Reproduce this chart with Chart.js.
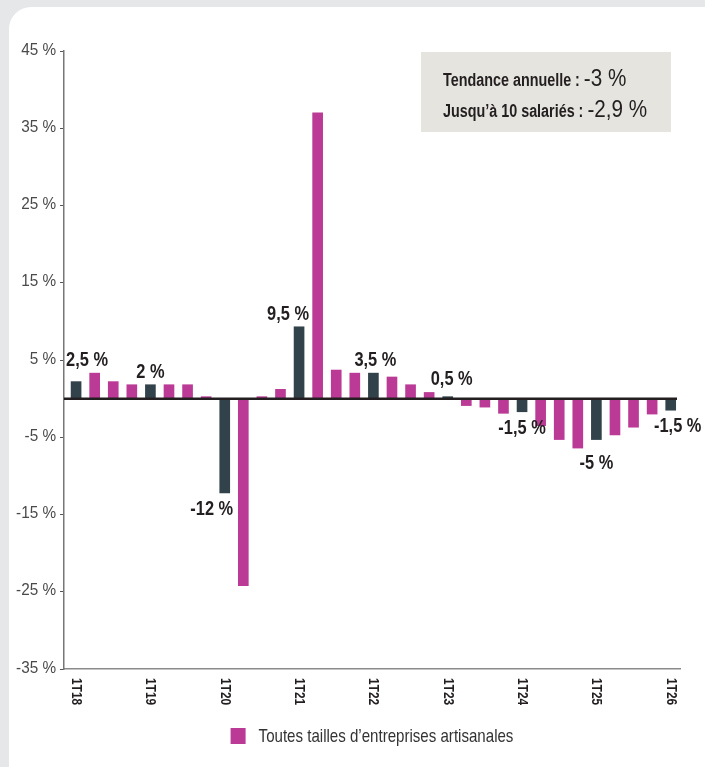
<!DOCTYPE html>
<html>
  <head>
    <title>Tendance artisanat</title>
    <script src="https://cdn.jsdelivr.net/npm/chart.js"></script>
    <style>
      body { margin: 0; background: #e6e7e9; width: 705px; height: 767px; overflow: hidden; position: relative; }
      #panel { position: absolute; left: 9px; top: 7px; width: 720px; height: 790px; background: #fff; border-radius: 22px; }
      #wrap { position: absolute; left: 0; top: 0; width: 705px; height: 767px; }
    </style>
  </head>
  <body>
    <div id="panel"></div>
    <div id="wrap"><canvas id="chart" width="705" height="767"></canvas></div>

    <script>
      const quarters = ['1T18','2T18','3T18','4T18','1T19','2T19','3T19','4T19',
        '1T20','2T20','3T20','4T20','1T21','2T21','3T21','4T21',
        '1T22','2T22','3T22','4T22','1T23','2T23','3T23','4T23',
        '1T24','2T24','3T24','4T24','1T25','2T25','3T25','4T25','1T26'];
      const values = [2.2, 3.3, 2.2, 1.8, 1.8, 1.8, 1.8, 0.25,
        -12.2, -24.2, 0.25, 1.2, 9.3, 37.0, 3.7, 3.3,
        3.3, 2.8, 1.8, 0.8, 0.25, -0.9, -1.1, -1.9,
        -1.7, -3.5, -5.3, -6.4, -5.3, -4.7, -3.7, -2.0, -1.5];
      const annualLabels = ['2,5 %','2 %','-12 %','9,5 %','3,5 %','0,5 %','-1,5 %','-5 %','-1,5 %'];
      const yTicks = [-35, -25, -15, -5, 5, 15, 25, 35, 45];
      const legendText = 'Toutes tailles d\u2019entreprises artisanales';
      const trendNames = ['Tendance annuelle : ', 'Jusqu\u2019\u00e0 10 salari\u00e9s : '];
      const trendValues = ['-3 %', '-2,9 %'];

      // small nudges so labels sit like in the print version [dx, dy]
      const labelNudge = [[11, -9], [0, 0], [-13, 0], [-11, 0], [2, 0], [4, -5], [0, 0], [0, 7], [7, 0]];

      const MAGENTA = '#bb3a96';
      const DARK = '#32424a';
      const INK = '#231f20';
      const SANS = "'Liberation Sans', Arial, sans-serif";
      const SQUEEZE = 0.82; // no narrow face installed, so squeeze Liberation Sans

      const isQ1 = q => q.startsWith('1T');

      // draws text squeezed horizontally, returns its drawn width
      function narrow(ctx, text, x, y, font, align, sx) {
        sx = sx || SQUEEZE;
        ctx.save();
        ctx.font = font;
        const w = ctx.measureText(text).width * sx;
        let left = x;
        if (align === 'center') left = x - w / 2;
        if (align === 'right') left = x - w;
        ctx.translate(left, y);
        ctx.scale(sx, 1);
        ctx.textAlign = 'left';
        ctx.fillText(text, 0, 0);
        ctx.restore();
        return w;
      }

      const decor = {
        id: 'decor',
        beforeDraw(chart) {
          const ctx = chart.ctx;
          ctx.save();
          ctx.fillStyle = '#e5e4df';
          ctx.fillRect(421, 52, 250, 80);
          ctx.fillStyle = INK;
          ctx.textBaseline = 'alphabetic';
          const base = [86, 117];
          trendNames.forEach((t, i) => {
            const w = narrow(ctx, t, 443, base[i], 'bold 17.5px ' + SANS, 'left');
            narrow(ctx, trendValues[i], 443 + w, base[i], '23.5px ' + SANS, 'left', 0.88);
          });
          ctx.restore();
        },
        afterDatasetsDraw(chart) {
          const {ctx, chartArea, scales: {x, y}} = chart;
          const y0 = y.getPixelForValue(0);
          ctx.save();
          ctx.strokeStyle = INK;
          ctx.lineWidth = 2.5;
          ctx.beginPath();
          ctx.moveTo(chartArea.left, y0);
          ctx.lineTo(chartArea.right - 3, y0);
          ctx.stroke();

          // y tick labels
          ctx.fillStyle = '#4a4a4a';
          ctx.textBaseline = 'middle';
          yTicks.forEach(v => {
            narrow(ctx, v + ' %', chartArea.left - 8, y.getPixelForValue(v) - 1, '17px ' + SANS, 'right', 0.9);
          });

          // value labels on the first quarters
          const meta = chart.getDatasetMeta(0);
          ctx.fillStyle = INK;
          ctx.textBaseline = 'alphabetic';
          let k = 0;
          quarters.forEach((q, i) => {
            if (!isQ1(q)) return;
            const bar = meta.data[i];
            const n = labelNudge[k] || [0, 0];
            const ty = values[i] >= 0 ? bar.y - 7 : bar.y + 22;
            narrow(ctx, annualLabels[k], bar.x + n[0], ty + n[1], 'bold 20px ' + SANS, 'center');
            k++;
          });

          // x labels, rotated clockwise
          ctx.textBaseline = 'middle';
          quarters.forEach((q, i) => {
            if (!isQ1(q)) return;
            const px = x.getPixelForValue(i);
            ctx.save();
            ctx.translate(px, chartArea.bottom + 9);
            ctx.rotate(Math.PI / 2);
            narrow(ctx, q, 0, 0, 'bold 14.5px ' + SANS, 'left');
            ctx.restore();
          });

          // legend
          ctx.font = '18.4px ' + SANS;
          const tw = ctx.measureText(legendText).width * SQUEEZE;
          const total = 15 + 13 + tw;
          const lx = (chartArea.left + chartArea.right) / 2 - total / 2;
          ctx.fillStyle = MAGENTA;
          ctx.fillRect(lx, 728, 15, 16);
          ctx.fillStyle = '#333';
          ctx.textBaseline = 'alphabetic';
          narrow(ctx, legendText, lx + 28, 742, '18.4px ' + SANS, 'left');
          ctx.restore();
        }
      };

      const chart = new Chart(document.getElementById('chart'), {
        type: 'bar',
        data: {
          datasets: [{
            label: legendText,
            data: values.map((v, i) => ({x: i, y: v})),
            backgroundColor: quarters.map(q => isQ1(q) ? DARK : MAGENTA),
            barThickness: 10
          }]
        },
        options: {
          responsive: false,
          animation: false,
          devicePixelRatio: 1,
          layout: { padding: { left: 10, right: 25, top: 51, bottom: 48 } },
          scales: {
            x: {
              type: 'linear',
              offset: false,
              min: -0.65,
              max: 32.5,
              grid: { display: false },
              ticks: { display: false },
              border: { display: true, color: '#8a8a8a', width: 1.5 },
              afterFit: s => { s.height = 50; }
            },
            y: {
              min: -35,
              max: 45,
              afterBuildTicks: s => { s.ticks = yTicks.map(v => ({value: v})); },
              ticks: { color: 'rgba(0,0,0,0)', font: { size: 12 }, padding: 4 },
              grid: { drawOnChartArea: false, drawTicks: true, tickLength: 4, color: '#555' },
              border: { display: true, color: '#777', width: 1.5 },
              afterFit: s => { s.width = 54; }
            }
          },
          plugins: {
            tooltip: { enabled: false },
            legend: { display: false }
          }
        },
        plugins: [decor]
      });
    </script>
  </body>
</html>
